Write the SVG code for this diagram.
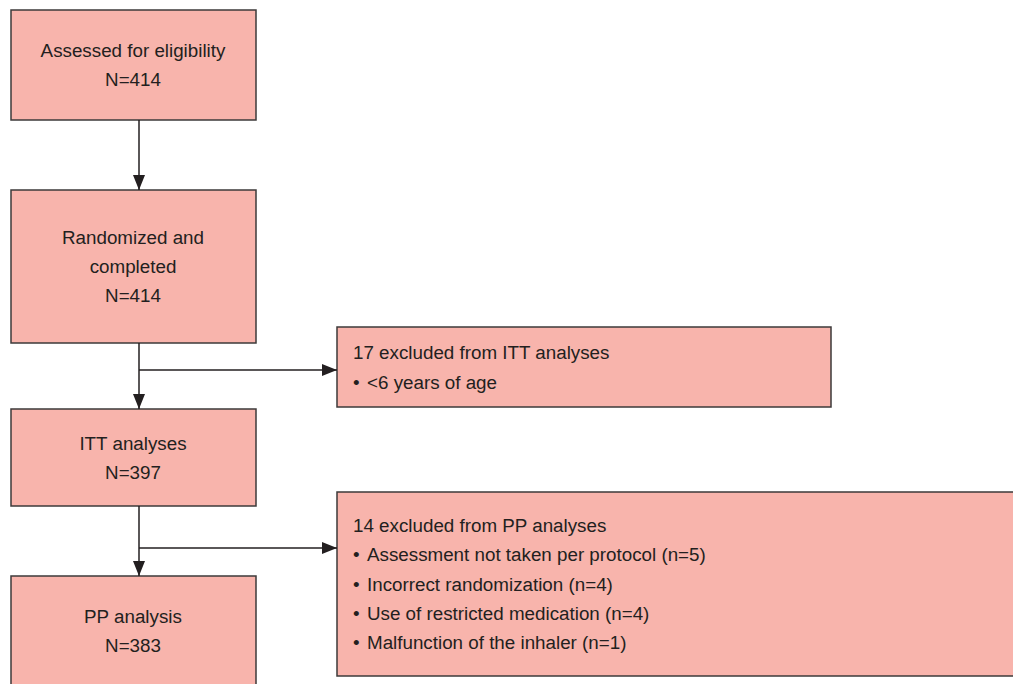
<svg xmlns="http://www.w3.org/2000/svg" width="1013" height="684" viewBox="0 0 1013 684">
<defs>
<marker id="ah" markerWidth="15" markerHeight="12" refX="15" refY="6" orient="auto" markerUnits="userSpaceOnUse" viewBox="0 0 15 12">
<path d="M0,0 L15,6 L0,12 Z" fill="#231f20"/>
</marker>
<style>
.box{fill:#f8b4ac;stroke:#3d3a3a;stroke-width:1.5}
.t{font-family:"Liberation Sans",Arial,sans-serif;font-size:18.8px;fill:#231f20}
.c{text-anchor:middle}
.ln{stroke:#231f20;stroke-width:1.5;fill:none}
</style>
</defs>
<rect width="1013" height="684" fill="#ffffff"/>
<g id="n1"><rect class="box" x="11" y="10" width="245" height="110"/>
<text class="t c" x="133" y="57">Assessed for eligibility</text>
<text class="t c" x="133" y="86">N=414</text></g>
<g id="n2"><rect class="box" x="11" y="190" width="245" height="153"/>
<text class="t c" x="133" y="244">Randomized and</text>
<text class="t c" x="133" y="273">completed</text>
<text class="t c" x="133" y="302">N=414</text></g>
<g id="n3"><rect class="box" x="11" y="409" width="245" height="97"/>
<text class="t c" x="133" y="450">ITT analyses</text>
<text class="t c" x="133" y="479">N=397</text></g>
<g id="n4"><rect class="box" x="11" y="576" width="245" height="120"/>
<text class="t c" x="133" y="623">PP analysis</text>
<text class="t c" x="133" y="652">N=383</text></g>
<g id="e1"><rect class="box" x="337" y="327" width="494" height="80"/>
<text class="t" x="353" y="359">17 excluded from ITT analyses</text>
<text class="t" x="353" y="389">•<tspan x="367">&lt;6 years of age</tspan></text></g>
<g id="e2"><rect class="box" x="337" y="492" width="690" height="184"/>
<text class="t" x="353" y="532">14 excluded from PP analyses</text>
<text class="t" x="353" y="561">•<tspan x="367">Assessment not taken per protocol (n=5)</tspan></text>
<text class="t" x="353" y="591">•<tspan x="367">Incorrect randomization (n=4)</tspan></text>
<text class="t" x="353" y="620">•<tspan x="367">Use of restricted medication (n=4)</tspan></text>
<text class="t" x="353" y="649">•<tspan x="367">Malfunction of the inhaler (n=1)</tspan></text></g>
<g id="connectors">
<line class="ln" x1="139" y1="120" x2="139" y2="190" marker-end="url(#ah)"/>
<line class="ln" x1="139" y1="343" x2="139" y2="409" marker-end="url(#ah)"/>
<line class="ln" x1="139" y1="370" x2="337" y2="370" marker-end="url(#ah)"/>
<line class="ln" x1="139" y1="506" x2="139" y2="576" marker-end="url(#ah)"/>
<line class="ln" x1="139" y1="548" x2="337" y2="548" marker-end="url(#ah)"/>
</g>
</svg>
